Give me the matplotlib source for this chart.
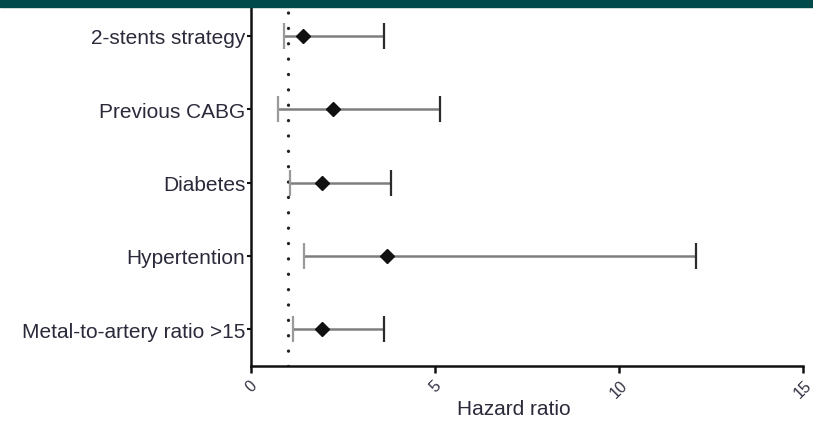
import matplotlib
matplotlib.use("Agg")
import matplotlib.pyplot as plt
from matplotlib.patches import Rectangle

# Risk factors (top to bottom) with hazard ratios and 95% CI
factors = ["2-stents strategy", "Previous CABG", "Diabetes", "Hypertention",
           "Metal-to-artery ratio >15"]
hr = [1.41, 2.23, 1.93, 3.70, 1.93]
ci_low = [0.90, 0.73, 1.06, 1.44, 1.14]
ci_high = [3.61, 5.14, 3.80, 12.09, 3.61]
xticks = [0, 5, 10, 15]
ref_value = 1

plt.rcParams["font.family"] = ["Liberation Sans", "DejaVu Sans"]

fig = plt.figure(figsize=(8.13, 4.27), dpi=100)
ax = fig.add_axes([251 / 813, 60 / 427, 552 / 813, 367 / 427])

ypos = list(range(len(factors)))[::-1]

# whisker lines
for y, lo, hi in zip(ypos, ci_low, ci_high):
    ax.plot([lo, hi], [y, y], color="#7e7e7e", lw=1.8, solid_capstyle="butt", zorder=2)
# caps
ax.plot(ci_low, ypos, linestyle="none", marker="|", markersize=19,
        markeredgewidth=1.6, color="#9a9a9a", zorder=3)
ax.plot(ci_high, ypos, linestyle="none", marker="|", markersize=19,
        markeredgewidth=1.6, color="#2b2b2b", zorder=3)
# point estimates
ax.plot(hr, ypos, linestyle="none", marker="D", markersize=7.5,
        color="#111111", zorder=4)

# reference line at HR = 1
ax.axvline(ref_value, color="#222222", lw=2.4, linestyle=(0, (0.01, 4.6)),
           dash_capstyle="round", zorder=1)

ax.set_xlim(0, 15)
ax.set_ylim(-0.5, len(factors) - 0.5)
ax.set_xticks(xticks)
ax.set_xticklabels([str(t) for t in xticks], rotation=45, fontsize=11.5,
                   ha="center", va="top")
ax.set_yticks(ypos)
ax.set_yticklabels(factors, fontsize=15)

for side in ("top", "right"):
    ax.spines[side].set_visible(False)
for side in ("left", "bottom"):
    ax.spines[side].set_linewidth(1.8)
    ax.spines[side].set_color("#111111")

ax.tick_params(axis="x", direction="out", length=5, width=1.8, pad=3, colors="#111111",
               labelcolor="#333344")
ax.tick_params(axis="y", direction="out", length=3, width=1.5, pad=1, colors="#111111",
               labelcolor="#2a2a3a")

ax.set_xlabel("Hazard ratio", fontsize=15, color="#2a2a3a")
ax.xaxis.set_label_coords(0.476, -0.117)
ax.xaxis.label.set_va("center")

# header band
fig.patches.append(Rectangle((0, 1 - 8 / 427), 1, 8 / 427, transform=fig.transFigure,
                             color="#004a4b", zorder=10))

fig.savefig("out.png", dpi=100)
